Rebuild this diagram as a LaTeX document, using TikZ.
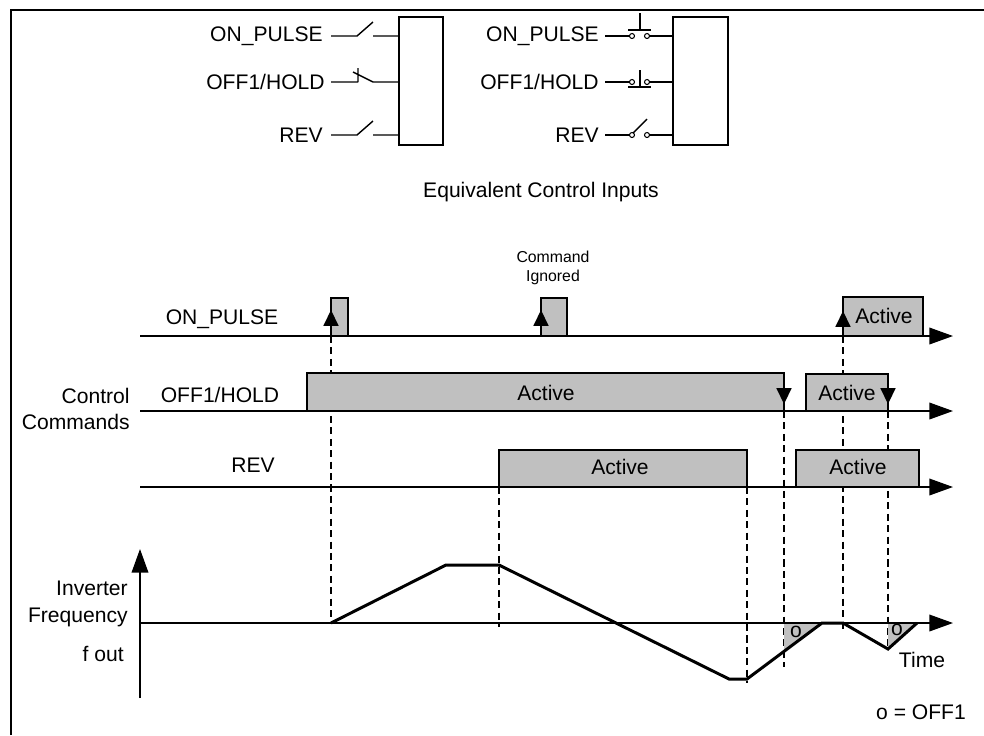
\documentclass[tikz,border=0pt]{standalone}
\usepackage{fontspec}
\setmainfont{Liberation Sans}
\usetikzlibrary{arrows.meta}
\definecolor{boxgray}{RGB}{192,192,192}
\tikzset{
  wire/.style={line width=0.8pt},
  activebox/.style={draw,line width=1pt,fill=boxgray},
  guide/.style={line width=0.6pt,dash pattern=on 4pt off 2.5pt},
  timeaxis/.style={line width=0.9pt,-{Triangle[length=13.5pt,width=9.5pt]}},
  edgearrow/.style={line width=0.9pt,-{Triangle[length=9pt,width=8.5pt]}},
  freqline/.style={line width=1.7pt,line join=miter},
  small/.style={font=\fontsize{9}{11}\selectfont}
}
\begin{document}
\begin{tikzpicture}[x=0.02cm,y=-0.02cm,inner sep=0pt,font=\fontsize{12}{15}\selectfont]
\useasboundingbox (0,0) rectangle (984,735);
% frame
\draw[line width=1.2pt] (11,735) -- (11,10) -- (984,10);

% equivalent inputs, left: plain contacts
\node[anchor=east] (onA) at (323,36) {ON\_PULSE};
\node[anchor=east] (offA) at (325,82) {OFF1/HOLD};
\node[anchor=east] (revA) at (323,135) {REV};
\draw[wire] (399,17) rectangle (443,145);
\foreach \y in {36,135}
  \draw[wire] (331,\y) -- (357,\y) -- (373,\y-14) (373,\y) -- (399,\y);
\draw[wire] (331,82) -- (358,82) (358,68) -- (358,82) (353,72) -- (373,82) -- (399,82);

% equivalent inputs, right: push buttons
\node[anchor=east] (onB) at (599,36) {ON\_PULSE};
\node[anchor=east] (offB) at (599,82) {OFF1/HOLD};
\node[anchor=east] (revB) at (599,135) {REV};
\draw[wire] (673,17) rectangle (728,145);
\foreach \y in {36,82,135} {
  \draw[wire] (605,\y) -- (629.5,\y) (649.5,\y) -- (673,\y);
  \draw[line width=0.6pt] (632,\y) circle (2.5) (647,\y) circle (2.5);
}
\draw[wire] (628,30) -- (651,30) (640,13) -- (640,30);
\draw[wire] (628,87) -- (651,87) (640,70) -- (640,87);
\draw[wire] (633,133) -- (647,119);
\node (eqlab) at (541,192) {Equivalent Control Inputs};

% timing
\foreach \x/\ya/\yb in {331/336/624,499/487/627,747/487/683,784/411/667,843/336/630,888/411/650}
  \draw[guide] (\x,\ya) -- (\x,\yb);

\node (onlab) at (222,319) {ON\_PULSE};
\node (offlab) at (220,395) {OFF1/HOLD};
\node (revlab) at (253,465) {REV};
\node[anchor=east,align=right] (cmdlab) at (130,409) {Control\\Commands};
\node[small,align=center] (ignlab) at (553,268) {Command\\Ignored};

\draw[activebox] (331,298) rectangle (348,336);
\draw[activebox] (541,298) rectangle (567,336);
\draw[activebox] (843,297) rectangle (923,336);
\node (onact) at (884,316) {Active};

\draw[activebox] (307,373) rectangle (784,411);
\node (offact1) at (546,393) {Active};
\draw[activebox] (806,374) rectangle (888,411);
\node (offact2) at (847,393) {Active};

\draw[activebox] (499,450) rectangle (747,487);
\node (revact1) at (620,467) {Active};
\draw[activebox] (796,450) rectangle (919,487);
\node (revact2) at (858,467) {Active};

\foreach \y in {336,411,487}
  \draw[timeaxis] (140,\y) -- (953,\y);

\draw[edgearrow] (331,336) -- (331,310);
\draw[edgearrow] (541,336) -- (541,310);
\draw[edgearrow] (843,336) -- (843,311);
\draw[edgearrow] (784,373) -- (784,404);
\draw[edgearrow] (888,374) -- (888,404);

% frequency
\fill[boxgray] (784,623) -- (822,623) -- (784,651) -- cycle;
\fill[boxgray] (888,623) -- (917,623) -- (888,649) -- cycle;
\draw[timeaxis] (140,698) -- (140,549);
\draw[timeaxis] (140,623) -- (953,623);
\draw[freqline] (331,623) -- (446,565) -- (499,565) -- (729,679) -- (747,679)
  -- (822,623) -- (843,623) -- (888,649) -- (917,623);
\node (o1) at (796,632) {o};
\node (o2) at (897,630) {o};
\node[anchor=east,align=right] (flab) at (128,604) {Inverter\\Frequency};
\node[anchor=east] (fout) at (124,654) {f out};
\node (timelab) at (922,660) {Time};
\node (legend) at (921,712) {o = OFF1};
\end{tikzpicture}
\end{document}
